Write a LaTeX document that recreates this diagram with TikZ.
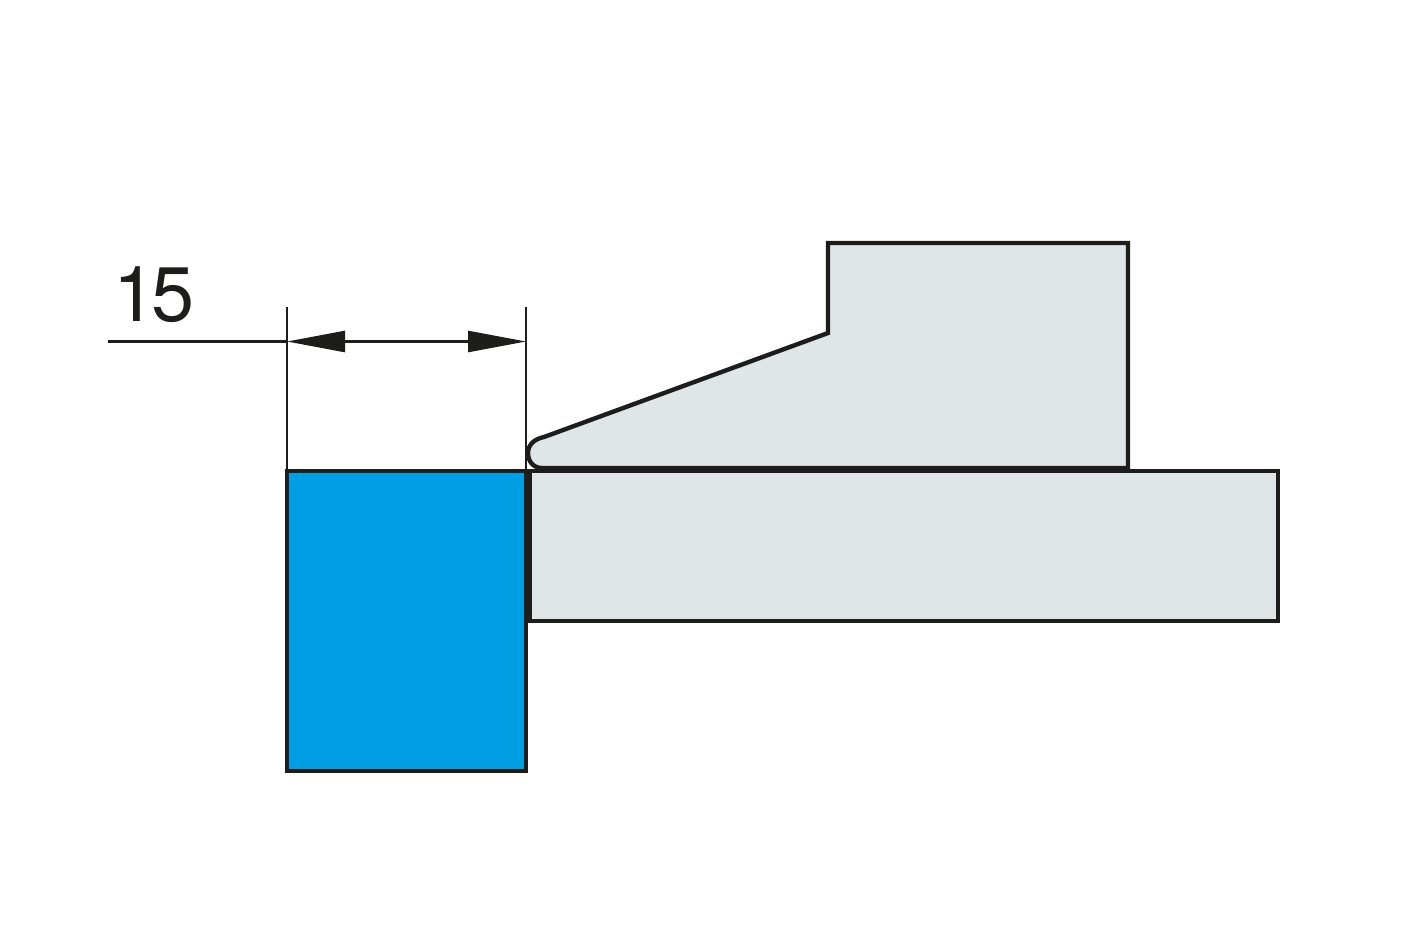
\documentclass[tikz,border=0pt]{standalone}
\usepackage{fontspec}
\setmainfont{TeX Gyre Heros}
\usetikzlibrary{arrows.meta}
\definecolor{partblue}{HTML}{009FE3}
\definecolor{partgray}{HTML}{E0E5E7}
\definecolor{inkblack}{HTML}{1D1D1B}
\tikzset{
    outline/.style={draw=inkblack,line width=1.25pt,line join=miter},
    dimline/.style={draw=inkblack,line width=0.72pt},
    dimtip/.style={{Triangle[length=0.58cm,width=0.21cm,inset=0pt]}-{Triangle[length=0.58cm,width=0.21cm,inset=0pt]}}
}
\begin{document}
\begin{tikzpicture}
        \useasboundingbox (0,0) rectangle (14.01,9.40);

        % Lower plate
        \fill[partgray] (5.30,4.69) rectangle (12.78,3.19);
        \draw[outline] (5.30,4.69) -- (12.78,4.69) -- (12.78,3.19) -- (5.30,3.19) -- cycle;

        % Wedge part
        \draw[outline,fill=partgray] (5.42,4.72) .. controls (5.33,4.72) and (5.28,4.79) .. (5.28,4.87)
            .. controls (5.28,4.95) and (5.34,5.01) .. (5.44,5.03)
            -- (8.28,6.07) -- (8.28,6.97) -- (11.28,6.97) -- (11.28,4.72) -- cycle;

        % Blue block
        \draw[outline,fill=partblue] (2.87,4.69) rectangle (5.26,1.69);

        % Dimension
        \coordinate (leftend) at (1.08,5.985);
        \coordinate (dimleft) at (2.87,5.985);
        \coordinate (dimright) at (5.26,5.985);
        \coordinate (lefttop) at (2.87,6.33);
        \coordinate (leftfoot) at (2.87,4.69);
        \coordinate (righttop) at (5.26,6.33);
        \coordinate (rightfoot) at (5.26,4.69);
        \draw[dimline] (lefttop) -- (leftfoot);
        \draw[dimline] (righttop) -- (rightfoot);
        \draw[dimline] (leftend) -- (dimleft);
        \draw[dimline,fill=inkblack,dimtip] (dimleft) -- (dimright);
        \node[anchor=base west,inner sep=0pt,text=inkblack,font=\fontsize{22pt}{24pt}\selectfont] (dimlabel) at (1.125,6.19) {1\kern-0.45mm 5};
\end{tikzpicture}
\end{document}
